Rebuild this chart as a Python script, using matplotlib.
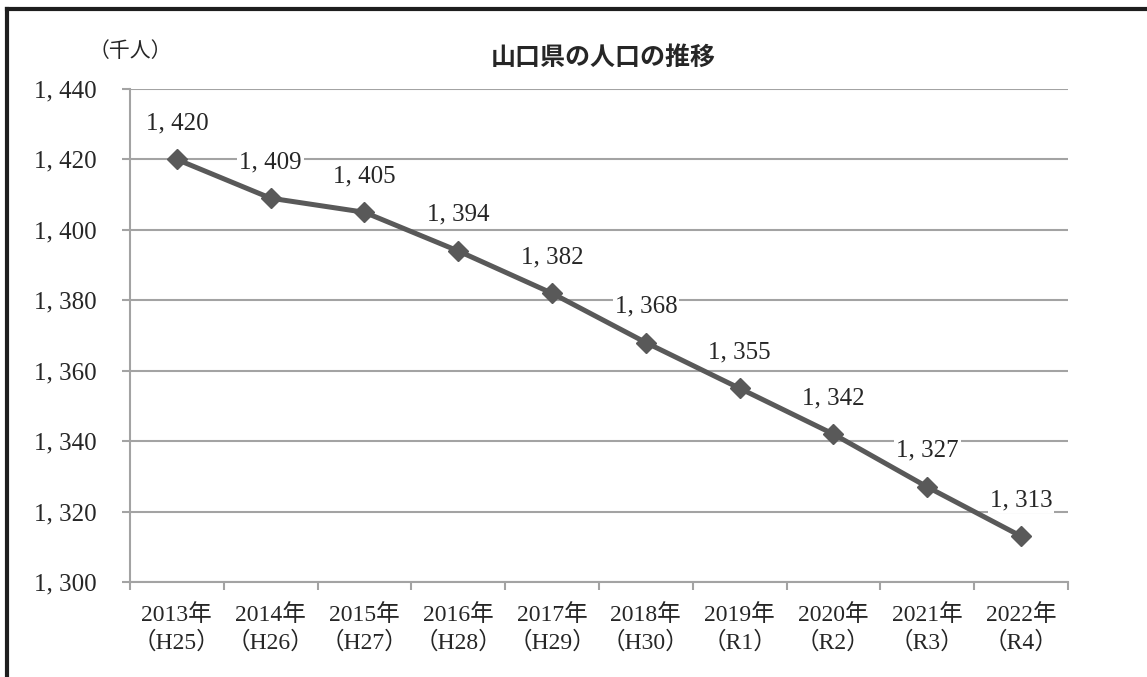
import matplotlib
import numpy as np
import matplotlib.pyplot as plt
from matplotlib.lines import Line2D

matplotlib.use('Agg')

# data (thousand people)
years = ['2013年', '2014年', '2015年', '2016年', '2017年',
         '2018年', '2019年', '2020年', '2021年', '2022年']
eras = ['（H25）', '（H26）', '（H27）', '（H28）', '（H29）',
        '（H30）', '（R1）', '（R2）', '（R3）', '（R4）']
population = [1420, 1409, 1405, 1394, 1382, 1368, 1355, 1342, 1327, 1313]
y_ticks = [1300, 1320, 1340, 1360, 1380, 1400, 1420, 1440]

SERIF = ['Liberation Serif', 'Noto Sans CJK JP']
GRID = '#a3a3a3'
LINE = '#595959'
TEXT = '#262626'


def fmt(v):
    return '{:d}, {:03d}'.format(v // 1000, v % 1000)


fig = plt.figure(figsize=(11.47, 6.77), dpi=100)
ax = fig.add_axes([0.1133, 0.1403, 0.8178, 0.7282])

x = np.arange(len(population))
ax.plot(x, population, color=LINE, lw=3.6, marker='D', ms=10.5,
        markerfacecolor=LINE, markeredgecolor=LINE, zorder=3)

for xi, v in zip(x, population):
    ax.annotate(fmt(v), (xi, v), xytext=(0, 26), textcoords='offset points',
                ha='center', va='center', fontsize=18, family=SERIF,
                color=TEXT, zorder=4,
                bbox=dict(boxstyle='square,pad=0.08', fc='white', ec='none'))

ax.set_xlim(-0.5, len(population) - 0.5)
ax.set_ylim(1300, 1440)
ax.set_yticks(y_ticks)
ax.set_yticklabels([fmt(v) for v in y_ticks], family=SERIF, fontsize=18,
                   color=TEXT)
ax.yaxis.grid(True, color=GRID, lw=1.5)
ax.set_axisbelow(True)

ax.set_xticks(x)
ax.set_xticklabels([a + '\n' + b for a, b in zip(years, eras)], family=SERIF,
                   fontsize=17, color=TEXT, linespacing=1.3)
ax.set_xticks(np.arange(len(population) + 1) - 0.5, minor=True)
ax.tick_params(axis='x', which='major', length=0, pad=16)
ax.tick_params(axis='x', which='minor', length=6, width=1.5, color=GRID)
ax.tick_params(axis='y', length=6, width=1.5, color=GRID, pad=18)

for s in ['top', 'right']:
    ax.spines[s].set_visible(False)
for s in ['left', 'bottom']:
    ax.spines[s].set_color(GRID)
    ax.spines[s].set_linewidth(1.5)

fig.text(0.526, 0.914, '山口県の人口の推移', ha='center', va='center',
         fontsize=18, fontweight='bold', family='Noto Sans CJK JP',
         color=TEXT)
fig.text(0.114, 0.923, '（千人）', ha='center', va='center', fontsize=15,
         family=SERIF, color=TEXT)

# outer frame (only top and left edges are in the picture)
fig.add_artist(Line2D([0.0065, 1.0], [0.987, 0.987], color='#1e1e1e', lw=3))
fig.add_artist(Line2D([0.0065, 0.0065], [0.0, 0.987], color='#1e1e1e', lw=3))

fig.savefig('out.png', dpi=100)
